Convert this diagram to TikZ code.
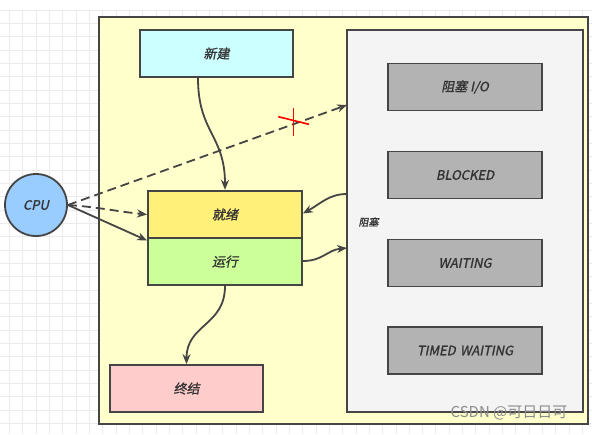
\documentclass[tikz,border=0pt]{standalone}
\usepackage{fontspec}
\usetikzlibrary{arrows.meta,calc}
\newfontfamily\cjk[FakeSlant=0.2,FakeBold=1.2]{Noto Sans CJK SC}
\definecolor{txt}{HTML}{333333}
\definecolor{edge}{HTML}{454545}
\definecolor{gridc}{HTML}{EBEBEB}
\definecolor{outerfill}{HTML}{FFFFCC}
\definecolor{panelfill}{HTML}{F4F4F4}
\definecolor{boxgray}{HTML}{B3B3B3}
\definecolor{newc}{HTML}{CCFFFF}
\definecolor{readyc}{HTML}{FFF07A}
\definecolor{runc}{HTML}{CCFF99}
\definecolor{endc}{HTML}{FFCCCC}
\definecolor{cpuc}{HTML}{99CCFF}
\tikzset{
  statebox/.style={draw=edge, line width=1.8pt, minimum width=153pt, minimum height=47pt,
    inner sep=0pt, font=\cjk\fontsize{13}{15}\selectfont, text=txt},
  graybox/.style={statebox, fill=boxgray, minimum width=154pt},
  conn/.style={draw=edge, line width=1.8pt, -{Stealth[length=10pt,width=8pt]}},
  dconn/.style={conn, dash pattern=on 9pt off 5pt},
}
\begin{document}
\begin{tikzpicture}[x=1pt,y=-1pt]
\useasboundingbox (0,0) rectangle (592,434);
\fill[white] (0,0) rectangle (592,434);
% grid
\begin{scope}
\clip (0,10) rectangle (592,434);
\foreach \i in {0,...,44} {
  \draw[gridc, line width=0.8pt] ({9.33+13.33*\i},10) -- ({9.33+13.33*\i},434);
}
\foreach \j in {0,...,32} {
  \draw[gridc, line width=0.8pt] (0,{10+13.33*\j}) -- (592,{10+13.33*\j});
}
\end{scope}
% outer region
\draw[edge, fill=outerfill, line width=1.8pt] (99,17) rectangle (588,424);
% blocked panel
\draw[edge, fill=panelfill, line width=1.8pt] (347,30) rectangle (583,412);
\node[anchor=west, font=\cjk\fontsize{10}{12}\selectfont, text=txt] (zslabel) at (355,222) {阻塞};
% states
\node[statebox, fill=newc] (xj) at (216.5,53.5) {新建};
\node[statebox, fill=readyc, minimum width=154pt, minimum height=47.5pt] (jx) at (225,214.5) {就绪};
\node[statebox, fill=runc, minimum width=154pt] (yx) at (225,261.5) {运行};
\node[statebox, fill=endc] (zj) at (186.5,388.5) {终结};
\node[graybox] (io) at (465,87) {阻塞 I/O};
\node[graybox] (bl) at (465,175) {BLOCKED};
\node[graybox] (wt) at (465,263) {WAITING};
\node[graybox] (tw) at (465,350.5) {TIMED\,\,WAITING};
% CPU
\node[circle, draw=edge, fill=cpuc, line width=1.8pt, minimum size=62pt, inner sep=0pt,
  font=\cjk\fontsize{13}{15}\selectfont, text=txt] (cpu) at (36,205) {CPU};
% panel anchor points
\coordinate (pin) at (347,105);
\coordinate (pout) at (347,194);
\coordinate (pret) at (347,248);
% connectors
\draw[conn] ($(xj.south)+(-18.5,0)$) .. controls +(0,55) and +(0,-55) .. (jx.north);
\draw[dconn] (cpu.east) -- (pin);
\draw[dconn] (cpu.east) .. controls +(30,2) and +(-30,-3) .. (jx.west);
\draw[conn] (cpu.east) -- ($(yx.west)+(0,-21)$);
\draw[conn] (pout) .. controls +(-18,0) and +(18,-10) .. ($(jx.east)+(0,-1)$);
\draw[conn] ($(yx.east)+(0,-0.5)$) .. controls +(20,0) and +(-20,2) .. (pret);
\draw[conn] (yx.south) .. controls +(0,40) and +(0,-40) .. (zj.north);
% red cross
\draw[red, line width=1.6pt] (293.3,108.3) -- (293.3,135.7);
\draw[red, line width=1.6pt] (278.3,116.7) -- (309,124.3);
% watermark
\node[font=\fontspec{Noto Sans CJK SC}\fontsize{15}{17}\selectfont, text=black!45] (wm) at (509,413) {CSDN @可日日可};
\end{tikzpicture}
\end{document}
